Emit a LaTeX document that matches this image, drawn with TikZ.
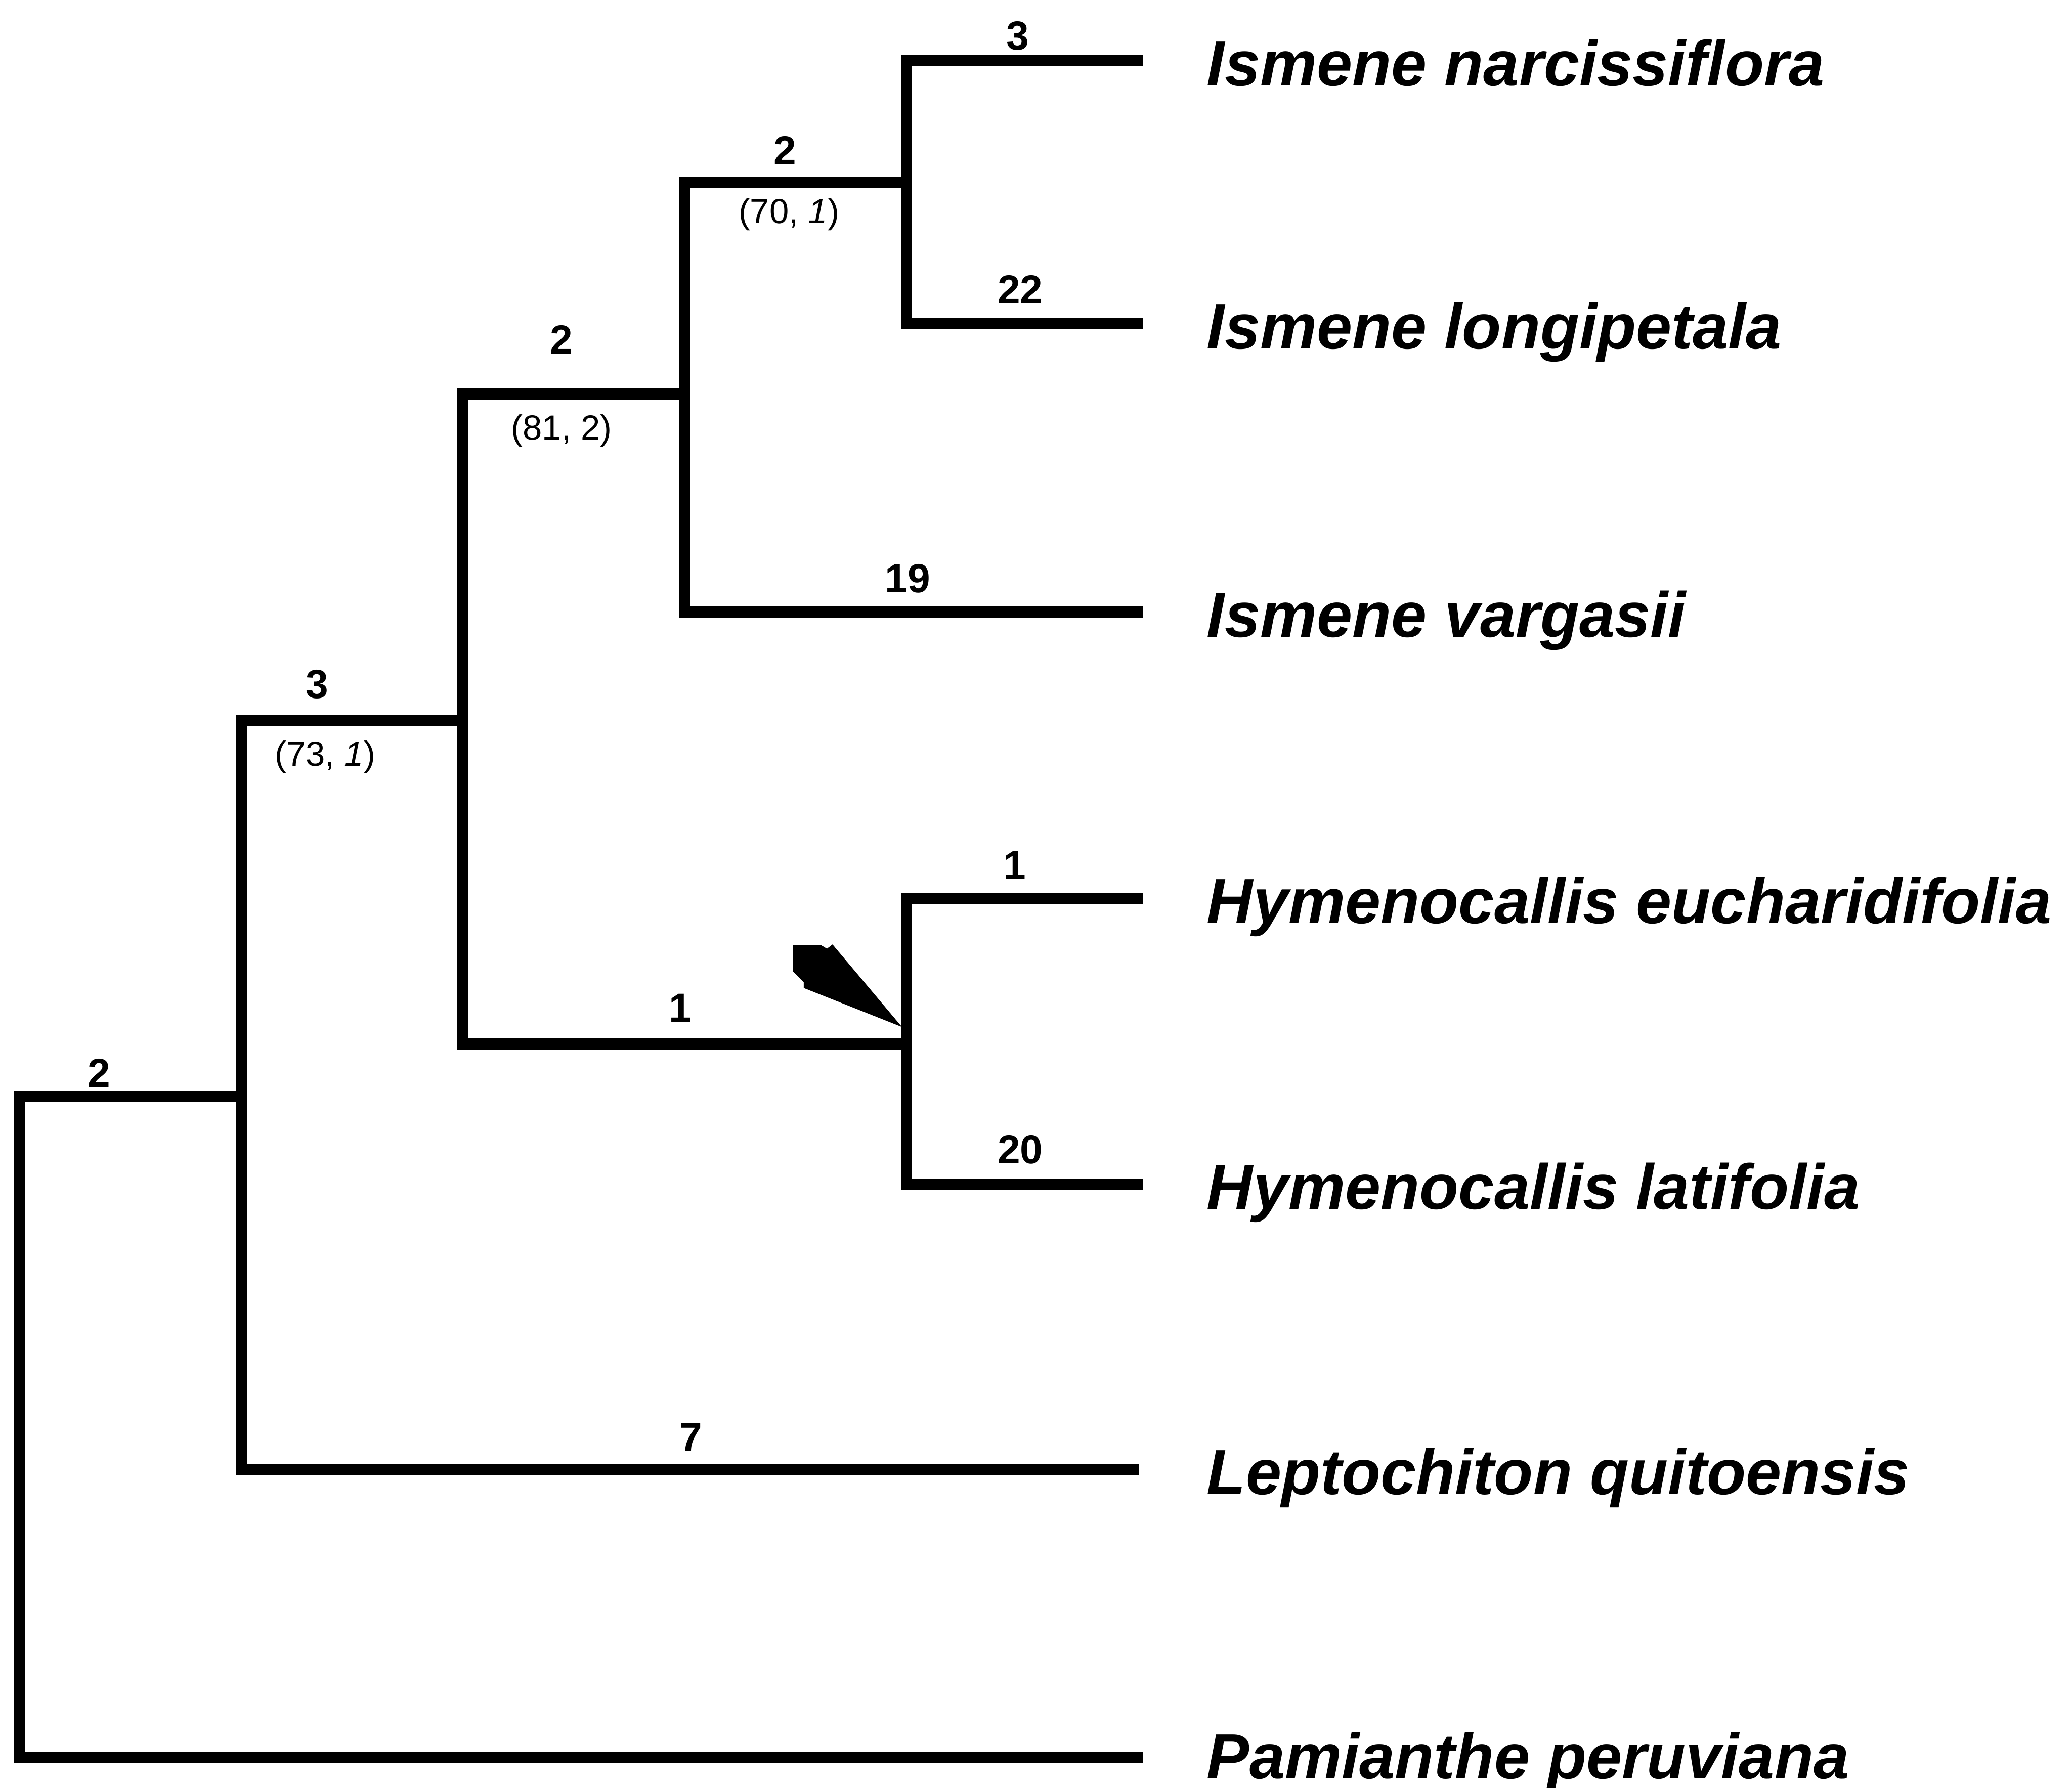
\documentclass[tikz,border=0pt]{standalone}
\usepackage{fontspec}
\setmainfont{Liberation Sans}
\begin{document}
\begin{tikzpicture}[x=0.02cm,y=-0.02cm,
  br/.style={line width=0.17cm, line join=miter, line cap=butt},
  taxon/.style={anchor=base west, inner sep=0pt, font=\fontsize{27.5}{30}\selectfont\bfseries\itshape},
  num/.style={inner sep=0pt, font=\fontsize{17.5}{20}\selectfont\bfseries},
  sup/.style={inner sep=0pt, font=\fontsize{15}{17}\selectfont}]
\useasboundingbox (0,0) rectangle (1568,1353);
% tree coordinates
\coordinate (Dt) at (686,46);
\coordinate (Db) at (686,245);
\coordinate (Dm) at (686,138);
\coordinate (Ct) at (518,138);
\coordinate (Cm) at (518,298);
\coordinate (Cb) at (518,463);
\coordinate (Bt) at (350,298);
\coordinate (Bm) at (350,545);
\coordinate (Bb) at (350,790);
\coordinate (H) at (686,790);
\coordinate (Ht) at (686,680);
\coordinate (Hb) at (686,896);
\coordinate (At) at (183,545);
\coordinate (Am) at (183,830);
\coordinate (Ab) at (183,1112);
\coordinate (Rt) at (15,830);
\coordinate (Rb) at (15,1330);
% leaf ends
\coordinate (eN) at (865,46);
\coordinate (eL) at (865,245);
\coordinate (eV) at (865,463);
\coordinate (eE) at (865,680);
\coordinate (eT) at (865,896);
\coordinate (eQ) at (862,1112);
\coordinate (eP) at (865,1330);
% taxa
\node[taxon] (tN) at (913,65) {Ismene narcissiflora};
\node[taxon] (tL) at (913,264) {Ismene longipetala};
\node[taxon] (tV) at (913,482) {Ismene vargasii};
\node[taxon] (tE) at (913,699) {Hymenocallis eucharidifolia};
\node[taxon] (tT) at (913,915) {Hymenocallis latifolia};
\node[taxon] (tQ) at (913,1131) {Leptochiton quitoensis};
\node[taxon] (tP) at (913,1346) {Pamianthe peruviana};
% branches
\draw[br] (eN) -- (Dt) -- (Db) -- (eL);
\draw[br] (Dm) -- (Ct) -- (Cb) -- (eV);
\draw[br] (Cm) -- (Bt) -- (Bb) -- (H);
\draw[br] (eE) -- (Ht) -- (Hb) -- (eT);
\draw[br] (Bm) -- (At) -- (Ab) -- (eQ);
\draw[br] (Am) -- (Rt) -- (Rb) -- (eP);
% branch lengths
\node[num] (n1) at (770,27) {3};
\node[num] (n2) at (772,219) {22};
\node[num] (n3) at (594,114) {2};
\node[num] (n4) at (687,438) {19};
\node[num] (n5) at (425,257) {2};
\node[num] (n6) at (768,655) {1};
\node[num] (n7) at (772,870) {20};
\node[num] (n8) at (515,763) {1};
\node[num] (n9) at (240,518) {3};
\node[num] (n10) at (523,1088) {7};
\node[num] (n11) at (75,812) {2};
% support
\node[sup] (s1) at (597,162) {(70, \textit{1})};
\node[sup] (s2) at (425,326) {(81, 2)};
\node[sup] (s3) at (246,573) {(73, \textit{1})};
% pointer
\fill (600.3,715.4) -- (621.4,715.4) -- (625.8,718) -- (630,714.8) -- (682.5,777.2) -- (608.2,747.7) -- (608.2,743.3) -- (600.3,735.4) -- cycle;
\end{tikzpicture}
\end{document}
